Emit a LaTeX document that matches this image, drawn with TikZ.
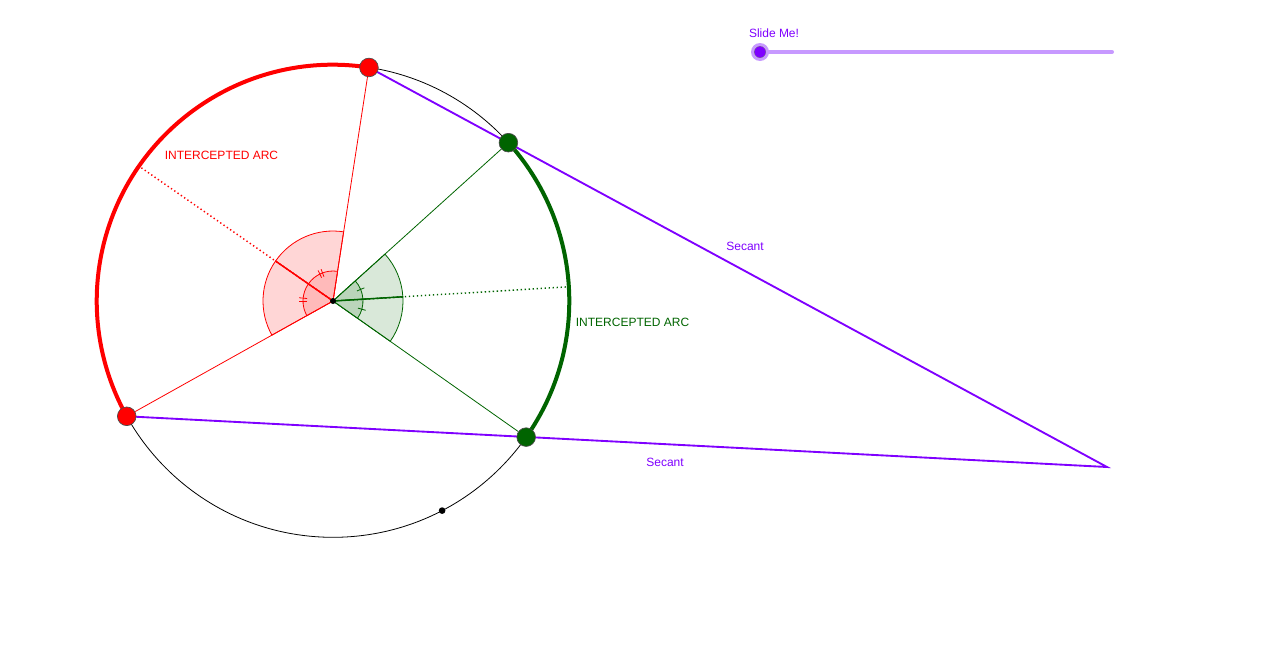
\documentclass[tikz,border=0pt]{standalone}
\usepackage{fontspec}
\setmainfont{Liberation Sans}
\usetikzlibrary{calc,backgrounds}
\definecolor{gred}{HTML}{FF0000}
\definecolor{ggreen}{HTML}{006400}
\definecolor{gviolet}{HTML}{7F00FF}
\definecolor{gslide}{HTML}{C799FF}
\tikzstyle{pt}=[circle, draw=black!70, line width=0.5, minimum size=14pt, inner sep=0pt]
\tikzstyle{redpt}=[pt, fill=gred]
\tikzstyle{greenpt}=[pt, fill=ggreen]
\tikzstyle{dot}=[circle, fill=black, minimum size=4.5pt, inner sep=0pt]
\tikzstyle{l1}=[line width=0.6]
\tikzstyle{secant}=[line width=1.4, color=gviolet]
\tikzstyle{bis}=[line width=1.1, dash pattern=on 1pt off 2pt]
\tikzstyle{lbl}=[font=\fontsize{9}{11}\selectfont, inner sep=0pt]
\tikzstyle{redang}=[l1, draw=gred, fill=gred!16]
\tikzstyle{greenang}=[l1, draw=ggreen, fill=ggreen!15]
\tikzstyle{knob}=[circle, fill=gviolet, draw=black!60, line width=0.5, minimum size=9pt, inner sep=0pt]

\begin{document}
\begin{tikzpicture}[x=0.75pt,y=0.75pt]
    \useasboundingbox (0,0) rectangle (1280,-647);
    \coordinate (O) at (333,-301);
    \node[redpt]   (A) at ($(O)+(81.25:236.3)$) {};
    \node[greenpt] (B) at ($(O)+(42.07:236.3)$) {};
    \node[greenpt] (C) at ($(O)+(-35.17:236.3)$) {};
    \node[redpt]   (D) at ($(O)+(209.2:236.3)$) {};
    \node[dot, minimum size=5pt] (M) at ($(O)+(-62.5:236.3)$) {};
    \node[dot] (Oc) at (O) {};
    \coordinate (E) at (1107,-467);
    \coordinate (rb) at ($(O)+(145.2:236.3)$);
    \coordinate (gb) at ($(O)+(3.45:236.3)$);

    \begin{scope}[on background layer]
    % angles
    \draw[redang] (O) -- +(81.25:70) arc[start angle=81.25, end angle=145.2, radius=70] -- cycle;
    \draw[redang] (O) -- +(145.2:70) arc[start angle=145.2, end angle=209.2, radius=70] -- cycle;
    \draw[redang, fill=gred!27] (O) -- +(81.25:30) arc[start angle=81.25, end angle=145.2, radius=30] -- cycle;
    \draw[redang, fill=gred!27] (O) -- +(145.2:30) arc[start angle=145.2, end angle=209.2, radius=30] -- cycle;
    \draw[greenang] (O) -- +(42.07:70) arc[start angle=42.07, end angle=3.45, radius=70] -- cycle;
    \draw[greenang] (O) -- +(3.45:70) arc[start angle=3.45, end angle=-35.17, radius=70] -- cycle;
    \draw[greenang, fill=ggreen!27] (O) -- +(42.07:30) arc[start angle=42.07, end angle=3.45, radius=30] -- cycle;
    \draw[greenang, fill=ggreen!27] (O) -- +(3.45:30) arc[start angle=3.45, end angle=-35.17, radius=30] -- cycle;
    \foreach \a in {110.5,116,174.5,180}
        \draw[l1, gred] ($(O)+(\a:26)$) -- ($(O)+(\a:34)$);
    \foreach \a in {22.8,-15.9}
        \draw[l1, ggreen] ($(O)+(\a:26)$) -- ($(O)+(\a:34)$);

    % circle and arcs
    \draw[l1] (O) circle[radius=236.3];
    \draw[gred, line width=3] (A.center) arc[start angle=81.25, end angle=209.2, radius=236.3];
    \draw[ggreen, line width=3] (B.center) arc[start angle=42.07, end angle=-35.17, radius=236.3];

    % radii and bisectors
    \draw[l1, gred] (O) -- (A);
    \draw[l1, gred] (O) -- (D);
    \draw[l1, ggreen] (O) -- (B);
    \draw[l1, ggreen] (O) -- (C);
    \draw[l1, gred, line width=1.1] (O) -- ($(O)+(145.2:70)$);
    \draw[bis, gred] (O) -- (rb);
    \draw[l1, ggreen, line width=1.1] (O) -- ($(O)+(3.45:70)$);
    \draw[bis, ggreen] (O) -- (gb);

    % secants
    \draw[secant] (A.center) -- (E) -- (D.center);
    \end{scope}

    \node[lbl, text=gred] (ra) at (221.5,-155) {INTERCEPTED ARC};
    \node[lbl, text=ggreen] (ga) at (632.5,-322) {INTERCEPTED ARC};
    \node[lbl, text=gviolet] (s1) at (745,-246) {Secant};
    \node[lbl, text=gviolet] (s2) at (665,-462) {Secant};

    % slider
    \coordinate (S) at (1112,-52);
    \node[knob] (K) at (760,-52) {};
    \begin{scope}[on background layer]
    \draw[gslide, line width=3, line cap=round] (K.center) -- (S);
    \end{scope}
    \draw[gslide, line width=2.2] (K) circle[radius=7.5];
    \node[lbl, text=gviolet] (sl) at (774,-33) {Slide Me!};
\end{tikzpicture}
\end{document}
